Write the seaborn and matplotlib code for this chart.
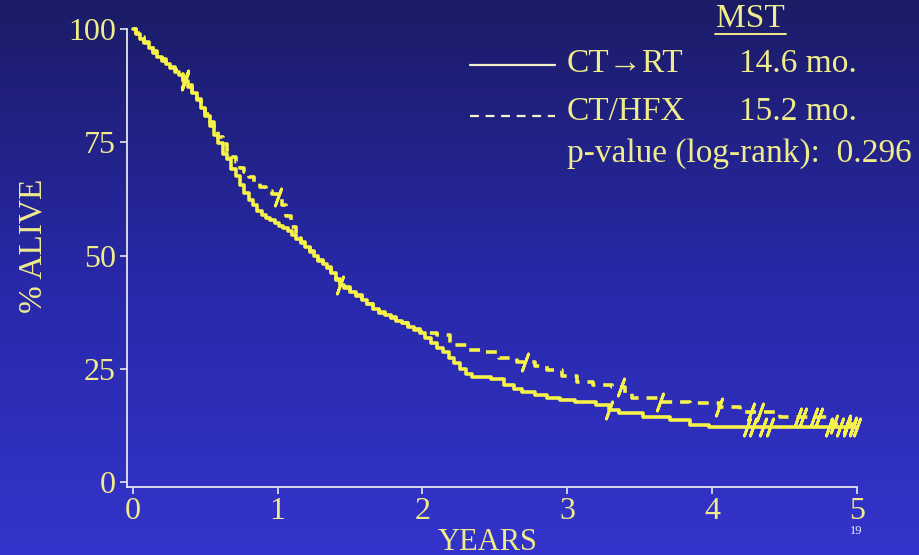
import numpy as np
import pandas as pd
import matplotlib
matplotlib.use("Agg")
import matplotlib.pyplot as plt
from matplotlib.lines import Line2D
from matplotlib.colors import LinearSegmentedColormap
import seaborn as sns

# ---------------- data ----------------
solid_t = [0.00, 0.02, 0.05, 0.08, 0.11, 0.14, 0.17, 0.20, 0.23, 0.26,
           0.29, 0.32, 0.35, 0.38, 0.41, 0.44, 0.47, 0.50, 0.53, 0.56,
           0.59, 0.62, 0.65, 0.68, 0.71, 0.74, 0.77, 0.80, 0.83, 0.86,
           0.89, 0.92, 0.95, 0.98, 1.01, 1.04, 1.07, 1.10, 1.13, 1.16,
           1.19, 1.22, 1.25, 1.28, 1.31, 1.34, 1.37, 1.40, 1.43, 1.46,
           1.50, 1.54, 1.58, 1.62, 1.66, 1.70, 1.74, 1.78, 1.82, 1.86,
           1.90, 1.94, 1.98, 2.02, 2.06, 2.10, 2.14, 2.18, 2.22, 2.26,
           2.30, 2.34, 2.47, 2.56, 2.63, 2.69, 2.78, 2.86, 2.95, 3.05,
           3.20, 3.29, 3.36, 3.52, 3.71, 3.85, 3.98, 5.00]
solid_s = [100.0, 99.0, 97.8, 96.9, 95.8, 94.6, 93.9, 92.9, 92.2, 91.3,
           90.6, 89.9, 88.6, 87.2, 85.8, 84.4, 82.6, 80.9, 78.6, 76.6,
           74.8, 72.4, 71.2, 69.1, 67.6, 65.6, 63.8, 62.2, 61.2, 59.9,
           59.0, 58.2, 57.8, 57.2, 56.6, 56.0, 55.4, 54.5, 53.6, 52.8,
           51.9, 50.8, 49.9, 48.8, 48.1, 47.2, 46.1, 44.6, 43.5, 42.8,
           42.0, 41.1, 40.2, 39.2, 38.3, 37.4, 36.8, 36.3, 35.6, 35.0,
           34.3, 33.6, 32.9, 31.8, 30.7, 29.6, 28.6, 27.4, 26.2, 25.0,
           23.8, 23.2, 22.8, 21.4, 20.6, 19.9, 19.1, 18.5, 18.0, 17.7,
           17.0, 15.9, 15.2, 14.3, 13.7, 12.6, 12.1, 12.1]
solid_censor = [0.36, 1.43, 3.29, 4.24, 4.28, 4.35, 4.40, 4.81, 4.88, 4.93, 4.97, 5.0]

dash_t = [0.00, 0.02, 0.05, 0.08, 0.11, 0.14, 0.17, 0.20, 0.23, 0.26,
          0.29, 0.32, 0.35, 0.38, 0.41, 0.44, 0.47, 0.50, 0.53, 0.56,
          0.59, 0.62, 0.65, 0.68, 0.71, 0.74, 0.77, 0.80, 0.84, 0.88,
          0.92, 0.96, 1.00, 1.03, 1.06, 1.09, 1.13, 1.16, 1.19, 1.22,
          1.25, 1.28, 1.31, 1.34, 1.37, 1.40, 1.43, 1.46, 1.50, 1.54,
          1.58, 1.62, 1.66, 1.70, 1.74, 1.78, 1.82, 1.86, 1.90, 1.94,
          1.98, 2.02, 2.10, 2.19, 2.31, 2.44, 2.53, 2.65, 2.78, 2.86,
          2.96, 3.07, 3.18, 3.31, 3.40, 3.45, 3.64, 3.85, 4.05, 4.19,
          4.47, 4.83, 4.97, 5.00]
dash_s = [100.0, 99.2, 98.2, 97.2, 96.2, 95.1, 94.2, 93.3, 92.5, 91.7,
          90.9, 90.0, 89.0, 87.6, 86.0, 84.6, 83.0, 81.3, 79.5, 77.8,
          76.2, 74.6, 73.0, 71.7, 70.6, 69.4, 68.4, 67.4, 66.0, 65.2,
          64.2, 63.6, 63.0, 61.2, 58.8, 56.2, 53.9, 53.0, 52.1, 51.0,
          50.1, 49.0, 48.3, 47.4, 46.3, 44.8, 43.7, 43.0, 42.2, 41.3,
          40.4, 39.4, 38.5, 37.6, 37.0, 36.5, 35.8, 35.2, 34.5, 33.8,
          33.2, 32.9, 32.5, 30.2, 29.1, 28.7, 27.4, 26.5, 25.6, 24.7,
          23.4, 22.1, 21.4, 21.0, 19.6, 18.5, 17.7, 17.4, 16.6, 15.5,
          14.3, 12.8, 12.3, 12.3]
dash_censor = [0.36, 1.0, 2.71, 3.37, 3.64, 4.05, 4.27, 4.33, 4.59, 4.63, 4.70, 4.74,
               4.84, 4.93, 4.97]

x_ticks = [0, 1, 2, 3, 4, 5]
y_ticks = [0, 25, 50, 75, 100]
legend_names = ["CT\u2192RT", "CT/HFX"]
legend_mst = ["14.6 mo.", "15.2 mo."]
pvalue_text = "p-value (log-rank):  0.296"

# ---------------- style ----------------
sns.set_theme(style="white")
plt.rcParams["font.family"] = ["Liberation Serif", "DejaVu Serif"]
LINE = "#f6f24a"
TXT = "#f0ec8c"
AXC = "#e6e6ee"

W, H = 920, 555
fig = plt.figure(figsize=(W / 100, H / 100), dpi=100)

# gradient background
bg = fig.add_axes([0, 0, 1, 1], zorder=-10)
cmap = LinearSegmentedColormap.from_list("bg", ["#1b1c66", "#2828a8", "#3434cc"])
bg.imshow(np.linspace(0, 1, 256)[:, None], aspect="auto", cmap=cmap,
          extent=[0, 1, 0, 1], origin="upper")
bg.axis("off")

ax = fig.add_axes([127 / W, 1 - 487 / H, (857 - 127) / W, (487 - 29) / H])
ax.patch.set_alpha(0)


def step_vals(t, s, ct):
    t = np.asarray(t)
    s = np.asarray(s)
    idx = np.searchsorted(t, ct, side="right") - 1
    return s[np.clip(idx, 0, len(s) - 1)]


df_solid = pd.DataFrame({"t": solid_t, "s": solid_s})
df_dash = pd.DataFrame({"t": dash_t, "s": dash_s})

sns.lineplot(data=df_solid, x="t", y="s", ax=ax, color=LINE, lw=2.6,
             drawstyle="steps-post", estimator=None, sort=False, clip_on=False)
sns.lineplot(data=df_dash, x="t", y="s", ax=ax, color=LINE, lw=2.6,
             drawstyle="steps-post", estimator=None, sort=False, clip_on=False,
             linestyle=(0, (3, 2.2)))

for ct, (t, s) in [(solid_censor, (solid_t, solid_s)), (dash_censor, (dash_t, dash_s))]:
    cy = step_vals(t, s, ct)
    sns.scatterplot(x=ct, y=cy, ax=ax, marker=(2, 2, -20), s=170, color=LINE,
                    linewidth=2.0, clip_on=False, legend=False, zorder=5)

ax.set_xlim(-0.04, 5.0)
ax.set_ylim(-1.1, 100)
ax.set_xticks(x_ticks)
ax.set_yticks(y_ticks)
ax.set_xticklabels([str(v) for v in x_ticks])
ax.set_yticklabels([str(v) for v in y_ticks])
ax.set_xlabel("")
ax.set_ylabel("")
for sp in ["top", "right"]:
    ax.spines[sp].set_visible(False)
for sp in ["left", "bottom"]:
    ax.spines[sp].set_color(AXC)
    ax.spines[sp].set_linewidth(1.3)
ax.tick_params(axis="both", direction="out", length=5, width=1.2, color=AXC,
               labelcolor=TXT, labelsize=23, pad=3, left=True, bottom=True)
ax.tick_params(axis="x", pad=2)

# axis titles
fig.text(33 / W, 1 - 246 / H, "% ALIVE", rotation=90, ha="center", va="center",
         color=TXT, fontsize=24)
fig.text(488 / W, 1 - 542 / H, "YEARS", ha="center", va="center", color=TXT, fontsize=22)

# legend block
fig.text(750 / W, 1 - 19 / H, "MST", ha="center", va="center", color=TXT, fontsize=24)
fig.add_artist(Line2D([715 / W, 786 / W], [1 - 34 / H] * 2, transform=fig.transFigure,
                      color=TXT, lw=1.4))
fig.add_artist(Line2D([470 / W, 555 / W], [1 - 65 / H] * 2, transform=fig.transFigure,
                      color="#f4f2c8", lw=1.6))
fig.add_artist(Line2D([470 / W, 555 / W], [1 - 116 / H] * 2, transform=fig.transFigure,
                      color="#f4f2c8", lw=1.6, linestyle=(0, (4, 3))))
rows_y = [64, 112]
for name, mst, yy in zip(legend_names, legend_mst, rows_y):
    fig.text(567 / W, 1 - yy / H, name, ha="left", va="center", color=TXT, fontsize=24)
    fig.text(739 / W, 1 - yy / H, mst, ha="left", va="center", color=TXT, fontsize=24)
fig.text(567 / W, 1 - 154 / H, pvalue_text, ha="left", va="center", color=TXT, fontsize=24)

# page number
fig.text(856 / W, 1 - 531 / H, "19", ha="center", va="center", color="#f0f0f0", fontsize=9)

fig.savefig("out.png", dpi=100)
